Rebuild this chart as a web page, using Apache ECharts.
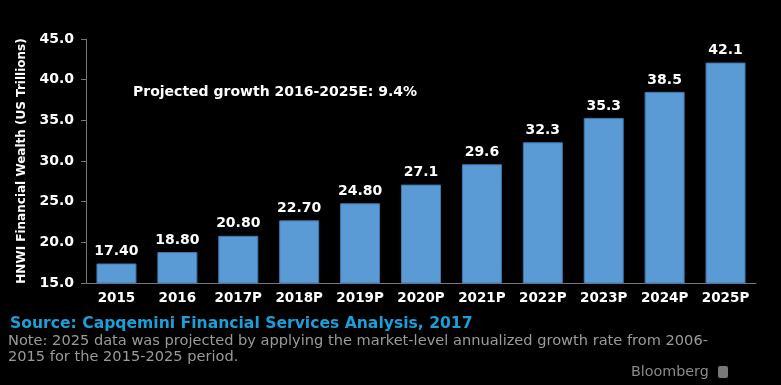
<!DOCTYPE html>
<html><head><meta charset="utf-8">
<script src="https://cdn.jsdelivr.net/npm/echarts@6/dist/echarts.min.js"></script>
<style>html,body{margin:0;padding:0;background:#000;}#c{width:781px;height:385px;}</style>
</head><body><div id="c"></div>
<script>
const categories = ['2015','2016','2017P','2018P','2019P','2020P','2021P','2022P','2023P','2024P','2025P'];
const values = [17.40, 18.80, 20.80, 22.70, 24.80, 27.1, 29.6, 32.3, 35.3, 38.5, 42.1];
const valueLabels = ['17.40','18.80','20.80','22.70','24.80','27.1','29.6','32.3','35.3','38.5','42.1'];
const yTicks = [15, 20, 25, 30, 35, 40, 45];

const chart = echarts.init(document.getElementById('c'));
const F = '"DejaVu Sans", Verdana, sans-serif';
chart.setOption({
  backgroundColor: '#000',
  animation: false,
  grid: {left: 86, right: 25, top: 39, bottom: 102},
  xAxis: {
    type: 'category', data: categories,
    axisLine: {show: true, lineStyle: {color: '#777', width: 1}},
    axisTick: {show: false},
    axisLabel: {interval: 0, color: '#fff', fontFamily: F, fontWeight: 'bold', fontSize: 13.5, margin: 8}
  },
  yAxis: {
    type: 'value', min: yTicks[0], max: yTicks[yTicks.length - 1], interval: 5,
    name: 'HNWI Financial Wealth (US Trillions)',
    nameLocation: 'middle', nameGap: 58, nameRotate: 90,
    nameTextStyle: {color: '#fff', fontFamily: F, fontWeight: 'bold', fontSize: 12},
    axisLine: {show: true, lineStyle: {color: '#777', width: 1}},
    axisTick: {show: true, length: 5, lineStyle: {color: '#777'}},
    splitLine: {show: false},
    axisLabel: {color: '#fff', fontFamily: F, fontWeight: 'bold', fontSize: 14, margin: 12,
      formatter: v => v.toFixed(1)}
  },
  series: [{
    type: 'bar', data: values, barWidth: 40,
    itemStyle: {color: '#5b9bd5', borderColor: '#3e78ad', borderWidth: 1},
    label: {show: true, position: 'top', distance: 5, color: '#fff', fontFamily: F,
      fontWeight: 'bold', fontSize: 14, formatter: p => valueLabels[p.dataIndex]}
  }],
  graphic: [
    {type: 'text', left: 133, top: 85, style: {text: 'Projected growth 2016-2025E: 9.4%', fill: '#fff',
      font: 'bold 14px ' + F}},
    {type: 'text', left: 10, top: 316, style: {text: 'Source: Capqemini Financial Services Analysis, 2017', fill: '#1a9fd9',
      font: 'bold 15.6px "DejaVu Sans", sans-serif'}},
    {type: 'text', left: 8, top: 333, style: {text: 'Note: 2025 data was projected by applying the market-level annualized growth rate from 2006-\n2015 for the 2015-2025 period.',
      fill: '#9a9a9a', font: '14.6px "DejaVu Sans", sans-serif', lineHeight: 16}},
    {type: 'text', left: 631, top: 365, style: {text: 'Bloomberg', fill: '#8a8a8a', font: '14.3px "DejaVu Sans", sans-serif'}},
    {type: 'rect', left: 718, top: 366, shape: {width: 10, height: 12, r: 2}, style: {fill: '#777'}}
  ]
});
</script></body></html>
